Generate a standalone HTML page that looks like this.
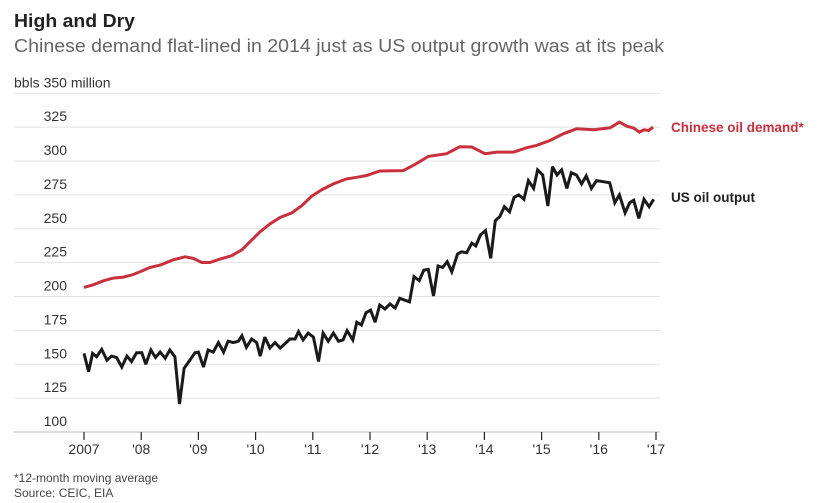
<!DOCTYPE html>
<html><head><meta charset="utf-8"><style>
html,body{margin:0;padding:0;background:#fff;}
svg{display:block;font-family:"Liberation Sans",sans-serif;}
</style></head><body>
<svg id="chart" width="831" height="503">
<text x="14" y="27" font-size="18" font-weight="bold" fill="#222" textLength="121" lengthAdjust="spacingAndGlyphs">High and Dry</text>
<text x="14" y="52" font-size="18.5" fill="#666" textLength="650" lengthAdjust="spacingAndGlyphs">Chinese demand flat-lined in 2014 just as US output growth was at its peak</text>
<g id="grid"></g>
<g id="yaxis"></g>
<g id="xaxis"></g>
<g id="series"></g>
<text x="671" y="132" font-size="13.5" font-weight="bold" fill="#c8303d">Chinese oil demand*</text>
<text x="671" y="202" font-size="13.5" font-weight="bold" fill="#222">US oil output</text>
<text x="14" y="482" font-size="12" fill="#444">*12-month moving average</text>
<text x="14" y="497" font-size="12" fill="#444">Source: CEIC, EIA</text>
</svg>
<script>
const yTicks=[100,125,150,175,200,225,250,275,300,325,350];
const xTickYears=[2007,2008,2009,2010,2011,2012,2013,2014,2015,2016,2017];
const xTickLabels=["2007","'08","'09","'10","'11","'12","'13","'14","'15","'16","'17"];
const chinaDates=[2007.00,2007.16,2007.34,2007.51,2007.69,2007.83,2007.98,2008.15,2008.33,2008.56,2008.77,2008.91,2009.06,2009.20,2009.38,2009.58,2009.76,2009.90,2010.08,2010.25,2010.43,2010.63,2010.81,2010.98,2011.16,2011.36,2011.59,2011.77,2011.94,2012.17,2012.58,2012.78,2013.02,2013.34,2013.57,2013.78,2014.01,2014.22,2014.51,2014.74,2014.91,2015.15,2015.38,2015.61,2015.91,2016.20,2016.36,2016.49,2016.61,2016.71,2016.79,2016.87,2016.95];
const chinaValues=[206.7,208.6,211.6,213.6,214.3,215.8,218.2,221.4,223.2,227.1,229.3,228.1,225.1,225.1,227.6,230.1,234.5,240.4,247.8,253.5,258.4,261.6,267.1,274,278.9,283.1,286.8,288,289.3,292.6,292.9,297.3,303.4,305.4,310.5,310.3,305.4,306.6,306.6,309.8,311.5,315.2,320.1,323.8,323,324.5,328.7,325.7,324.3,321.3,323,322.5,325];
const usDates=[2007.00,2007.08,2007.15,2007.22,2007.31,2007.40,2007.48,2007.57,2007.66,2007.75,2007.83,2007.92,2008.01,2008.08,2008.17,2008.25,2008.33,2008.42,2008.50,2008.59,2008.67,2008.75,2008.85,2008.94,2009.00,2009.09,2009.17,2009.26,2009.35,2009.44,2009.52,2009.61,2009.70,2009.76,2009.84,2009.93,2010.02,2010.08,2010.16,2010.25,2010.34,2010.43,2010.51,2010.60,2010.69,2010.75,2010.83,2010.92,2011.01,2011.10,2011.18,2011.27,2011.36,2011.45,2011.53,2011.60,2011.70,2011.77,2011.85,2011.93,2012.01,2012.09,2012.17,2012.26,2012.35,2012.44,2012.52,2012.69,2012.77,2012.86,2012.94,2013.02,2013.11,2013.19,2013.27,2013.35,2013.43,2013.53,2013.60,2013.69,2013.78,2013.85,2013.93,2014.02,2014.11,2014.19,2014.27,2014.35,2014.44,2014.52,2014.60,2014.69,2014.77,2014.86,2014.93,2015.02,2015.11,2015.19,2015.27,2015.35,2015.44,2015.52,2015.61,2015.70,2015.78,2015.87,2015.96,2016.08,2016.19,2016.28,2016.36,2016.46,2016.54,2016.61,2016.70,2016.79,2016.88,2016.96];
const usValues=[158,144.5,158,155.6,161,153,156,155,148,156,152,158.5,158.5,150,160.5,155,159,154.5,160.5,155.6,120.7,147,153,158.5,159,148,160.5,159,166,159,167,166,167,171,162.5,168.6,166,156,170,162,166,162,165,168.6,168.6,174,168,173,170,152,173,167,173,167,168,174.8,168,181,179,188,190,181,193.7,190.8,194.5,191.5,198.7,196,214.6,211.7,219.5,220,200.4,222.5,221.5,225.7,218.3,231.4,233,232.3,239.3,237.3,245.4,248.6,228.2,256,259,266.3,262.6,273.2,275,271.7,285.5,279.8,293.4,289.7,266.8,295.8,289.7,293.4,279.8,291.4,289.7,283,289,279.8,285.5,284.7,283.9,269.2,275,261.8,269.2,271,257.7,271.7,266.3,271.7];

const NS="http://www.w3.org/2000/svg";
const yScale=v=>432-(v-100)*1.355;
const xScale=t=>84+(t-2007)*57.2;
const grid=document.getElementById('grid'),yax=document.getElementById('yaxis'),xax=document.getElementById('xaxis'),ser=document.getElementById('series');
yTicks.forEach(v=>{
  const l=document.createElementNS(NS,'line');
  l.setAttribute('x1',14);l.setAttribute('x2',660);
  l.setAttribute('y1',yScale(v));l.setAttribute('y2',yScale(v));
  l.setAttribute('stroke',v===100?'#bbb':'#e2e2e2');l.setAttribute('stroke-width',1);
  
  
  grid.appendChild(l);
  const t=document.createElementNS(NS,'text');
  t.setAttribute('font-size',14);t.setAttribute('fill','#333');
  t.setAttribute('y',yScale(v)-6);
  if(v===350){t.setAttribute('x',14);t.textContent='bbls 350 million';}
  else{t.setAttribute('x',67);t.setAttribute('text-anchor','end');t.textContent=String(v);}
  
  
  yax.appendChild(t);
});
xTickYears.forEach((yr,i)=>{
  const l=document.createElementNS(NS,'line');
  l.setAttribute('x1',xScale(yr));l.setAttribute('x2',xScale(yr));
  l.setAttribute('y1',432);l.setAttribute('y2',440);
  l.setAttribute('stroke','#222');l.setAttribute('stroke-width',1.2);
  
  
  xax.appendChild(l);
  const t=document.createElementNS(NS,'text');
  t.setAttribute('x',xScale(yr));t.setAttribute('y',454);
  t.setAttribute('text-anchor','middle');t.setAttribute('font-size',14);t.setAttribute('fill','#333');
  t.textContent=xTickLabels[i];
  
  
  xax.appendChild(t);
});
function line(dates,vals,color,name){
  const p=document.createElementNS(NS,'polyline');
  p.setAttribute('points',dates.map((d,i)=>xScale(d).toFixed(1)+','+yScale(vals[i]).toFixed(1)).join(' '));
  p.setAttribute('fill','none');p.setAttribute('stroke',color);p.setAttribute('stroke-width',3);
  p.setAttribute('stroke-linejoin','miter');p.setAttribute('stroke-miterlimit',3);
  
  
  ser.appendChild(p);
}
line(chinaDates,chinaValues,'#c8303d','chinese-demand-line');
line(usDates,usValues,'#1a1a1a','us-output-line');
</script>
</body></html>
